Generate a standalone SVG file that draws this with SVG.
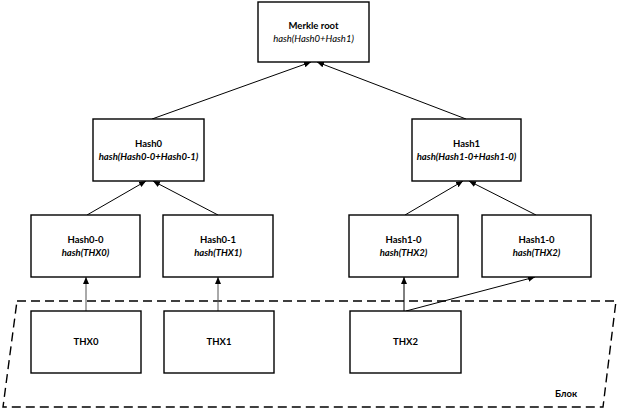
<svg xmlns="http://www.w3.org/2000/svg" width="620" height="413" viewBox="0 0 620 413">
<style>
.box{fill:#fff;stroke:#000;stroke-width:1.4}
.t{font-family:Lato,"Open Sans","Liberation Sans",sans-serif;font-size:9.5px;text-anchor:middle;fill:#000}
.b{font-weight:bold}
.i{font-style:italic}
.c{stroke:#000;stroke-width:1;fill:none;marker-end:url(#ah)}
.g{stroke:#555;stroke-width:1;fill:none;marker-end:url(#ah)}
.blk{fill:none;stroke:#000;stroke-width:1.4;stroke-dasharray:9,5}
</style>
<defs>
<marker id="ah" markerWidth="8" markerHeight="8" refX="7" refY="3" orient="auto" markerUnits="userSpaceOnUse">
<path d="M0,0 L7,3 L0,6 Z" fill="#000"/>
</marker>
</defs>
<rect width="620" height="413" fill="#fff"/>
<polygon id="block" class="blk" points="17,301 616,301 603,407 3,407"/>
<text class="t b" x="566" y="397">Блок</text>
<g id="connectors">
<line class="c" x1="152" y1="119" x2="311" y2="62"/>
<line class="c" x1="466" y1="119" x2="317" y2="62"/>
<line class="c" x1="87" y1="215" x2="146" y2="181"/>
<line class="c" x1="218" y1="215" x2="153" y2="181"/>
<line class="c" x1="405" y1="215" x2="463" y2="181"/>
<line class="c" x1="536" y1="215" x2="469" y2="181"/>
<line class="g" x1="86" y1="311" x2="86" y2="277"/>
<line class="g" x1="218" y1="311" x2="218" y2="277"/>
<line class="c" x1="404" y1="311" x2="404" y2="277"/>
<line class="c" x1="406" y1="311" x2="535" y2="277"/>
</g>
<g id="merkle"><rect class="box" x="258" y="2" width="111" height="60"/><text class="t b" x="313.5" y="29">Merkle root</text><text class="t i" x="313.5" y="42">hash(Hash0+Hash1)</text></g>
<g id="hash0"><rect class="box" x="93" y="119" width="111" height="62"/><text class="t b" x="148.5" y="147">Hash0</text><text class="t i b" x="148.5" y="160">hash(Hash0-0+Hash0-1)</text></g>
<g id="hash1"><rect class="box" x="412" y="119" width="109" height="62"/><text class="t b" x="466.5" y="147">Hash1</text><text class="t i b" x="466.5" y="160">hash(Hash1-0+Hash1-0)</text></g>
<g id="hash00"><rect class="box" x="31" y="215" width="109" height="62"/><text class="t b" x="85.5" y="243">Hash0-0</text><text class="t i b" x="85.5" y="256">hash(THX0)</text></g>
<g id="hash01"><rect class="box" x="163" y="215" width="110" height="62"/><text class="t b" x="218" y="243">Hash0-1</text><text class="t i b" x="218" y="256">hash(THX1)</text></g>
<g id="hash10"><rect class="box" x="349" y="215" width="109" height="62"/><text class="t b" x="403.5" y="243">Hash1-0</text><text class="t i b" x="403.5" y="256">hash(THX2)</text></g>
<g id="hash10b"><rect class="box" x="482" y="215" width="109" height="62"/><text class="t b" x="536.5" y="243">Hash1-0</text><text class="t i b" x="536.5" y="256">hash(THX2)</text></g>
<g id="thx0"><rect class="box" x="31" y="311" width="110" height="62"/><text class="t b" x="86" y="345">THX0</text></g>
<g id="thx1"><rect class="box" x="164" y="311" width="110" height="62"/><text class="t b" x="219" y="345">THX1</text></g>
<g id="thx2"><rect class="box" x="350" y="311" width="111" height="62"/><text class="t b" x="405.5" y="345">THX2</text></g>
</svg>
